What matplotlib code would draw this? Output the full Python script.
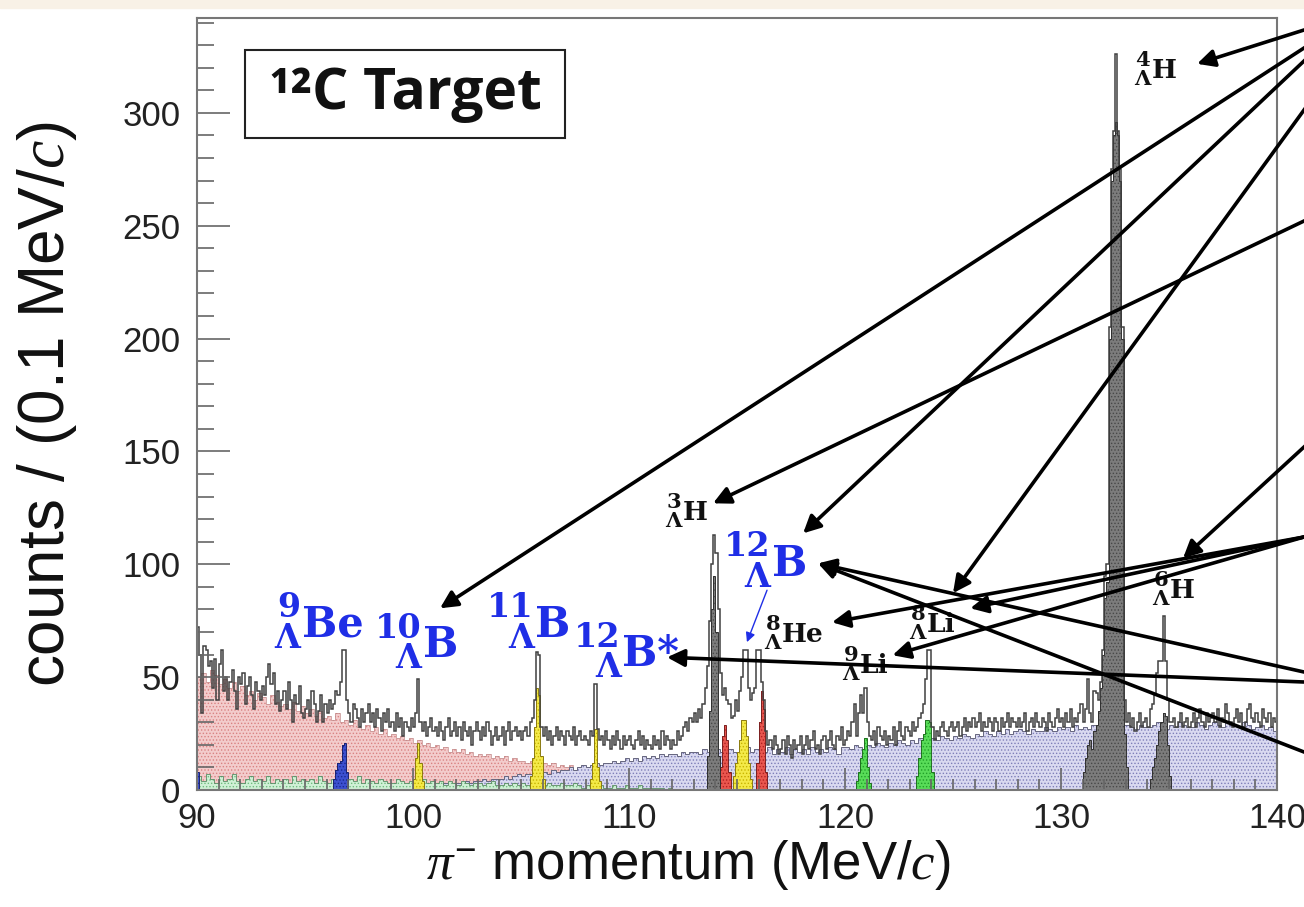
import numpy as np
import matplotlib
matplotlib.use("Agg")
import matplotlib.pyplot as plt
from matplotlib import font_manager
from matplotlib.patches import Rectangle

# pi- momentum spectrum, 0.1 MeV/c bins from 90 to 140 (one row per MeV/c)
p_lo, p_hi, bin_w = 90.0, 140.0, 0.1
total = [
    72, 60, 34, 64, 62, 55, 57, 45, 58, 40,
    56, 62, 44, 50, 40, 48, 53, 44, 36, 50,
    47, 52, 38, 46, 50, 42, 36, 48, 44, 40,
    46, 42, 50, 56, 47, 52, 38, 44, 35, 40,
    44, 36, 48, 40, 30, 42, 38, 46, 34, 32,
    36, 40, 33, 44, 38, 30, 35, 42, 30, 38,
    34, 40, 36, 38, 44, 42, 48, 62, 62, 40,
    34, 30, 38, 36, 32, 28, 36, 30, 34, 38,
    30, 34, 28, 36, 32, 26, 34, 30, 36, 28,
    30, 26, 34, 28, 32, 24, 30, 28, 26, 32,
    28, 34, 49, 30, 26, 30, 24, 28, 32, 26,
    28, 24, 30, 26, 22, 28, 32, 24, 26, 30,
    24, 28, 22, 30, 26, 24, 28, 20, 26, 30,
    26, 22, 28, 24, 30, 26, 20, 24, 28, 22,
    24, 28, 20, 26, 30, 22, 26, 28, 24, 26,
    22, 26, 28, 24, 30, 32, 40, 61, 60, 28,
    24, 28, 22, 26, 20, 24, 28, 22, 26, 24,
    20, 26, 24, 22, 28, 20, 24, 26, 22, 24,
    22, 20, 26, 24, 47, 27, 22, 24, 20, 26,
    22, 18, 24, 20, 26, 22, 18, 24, 20, 22,
    24, 20, 18, 22, 26, 20, 24, 18, 22, 20,
    18, 24, 20, 22, 18, 26, 20, 24, 22, 18,
    22, 20, 26, 22, 24, 28, 30, 26, 32, 30,
    34, 30, 36, 32, 38, 45, 55, 75, 100, 113,
    105, 80, 52, 42, 45, 40, 38, 32, 33, 40,
    35, 44, 50, 62, 62, 45, 40, 43, 45, 62,
    62, 48, 40, 26, 20, 22, 18, 24, 20, 16,
    18, 22, 16, 24, 20, 14, 22, 18, 20, 24,
    16, 20, 24, 18, 22, 26, 18, 20, 16, 22,
    24, 18, 22, 26, 20, 18, 24, 22, 28, 20,
    22, 26, 24, 30, 38, 24, 34, 42, 34, 45,
    30, 24, 22, 26, 20, 28, 24, 22, 26, 20,
    24, 22, 28, 20, 26, 30, 24, 22, 28, 26,
    24, 30, 26, 28, 32, 34, 38, 49, 62, 62,
    28, 22, 26, 24, 28, 30, 26, 24, 28, 30,
    26, 28, 30, 24, 28, 32, 26, 30, 28, 32,
    28, 30, 34, 26, 30, 28, 32, 30, 26, 32,
    30, 26, 32, 28, 30, 34, 28, 32, 30, 28,
    32, 28, 30, 34, 26, 30, 32, 28, 34, 30,
    28, 32, 30, 26, 34, 30, 28, 32, 36, 30,
    32, 28, 34, 30, 36, 28, 32, 30, 34, 38,
    30, 36, 49, 34, 30, 44, 43, 40, 48, 62,
    95, 100, 205, 275, 292, 326, 292, 275, 205, 40,
    30, 34, 28, 32, 26, 30, 34, 28, 30, 32,
    28, 36, 38, 42, 52, 57, 57, 77, 57, 40,
    30, 30, 32, 28, 30, 34, 28, 30, 32, 28,
    30, 34, 28, 32, 36, 30, 28, 34, 30, 32,
    34, 30, 36, 28, 32, 30, 38, 34, 30, 28,
    32, 36, 30, 34, 28, 30, 36, 38, 32, 30,
    34, 30, 28, 36, 32, 30, 34, 28, 32, 30,
]

# broad simulated backgrounds, 0.2 MeV/c bins (five per MeV/c)
bg_w = 0.2
pink_start = 90.0
pink = [
    50, 52, 48, 53, 51, 47, 49, 45, 48, 44, 46, 42, 44, 40, 43,
    41, 38, 42, 39, 37, 38, 36, 39, 35, 37, 34, 36, 33, 35, 32,
    33, 31, 34, 30, 31, 29, 31, 28, 27, 29, 26, 28, 25, 27, 24,
    25, 23, 24, 22, 23, 21, 22, 20, 21, 19, 20, 18, 19, 17, 18,
    17, 18, 16, 17, 15, 16, 15, 16, 14, 15, 14, 15, 13, 14, 13,
    13, 12, 13, 12, 11, 12, 11, 12, 10, 11, 10, 11, 9, 10, 10,
    9, 10, 8, 9, 8, 8, 9, 7, 8, 8, 7, 8, 7, 6, 7,
    6, 7, 6, 5, 6, 5, 6, 5, 5, 4, 4, 5, 4, 4, 3,
    3, 4, 3, 3, 2, 2, 3, 2, 2, 1,
]
lavender_start = 100.0
lavender = [
    1, 1, 2, 1, 2, 2, 2, 3, 2, 3, 3, 3, 4, 3, 4, 4, 5, 4, 5, 5,
    5, 6, 5, 6, 7, 6, 7, 7, 8, 7, 8, 7, 9, 8, 9, 9, 10, 9, 10, 11,
    10, 11, 12, 11, 12, 12, 13, 12, 13, 14, 13, 14, 13, 15, 14, 15, 14, 16, 15, 16,
    16, 15, 17, 16, 17, 17, 16, 18, 17, 16, 18, 17, 16, 18, 17, 17, 18, 19, 17, 18,
    18, 17, 19, 16, 18, 17, 19, 16, 18, 17, 18, 16, 19, 17, 18, 17, 19, 18, 16, 19,
    19, 18, 20, 19, 18, 20, 19, 21, 20, 19, 21, 20, 22, 21, 20, 22, 21, 23, 22, 21,
    23, 22, 24, 23, 22, 24, 23, 25, 24, 23, 25, 24, 26, 25, 24, 26, 25, 27, 25, 26,
    27, 26, 25, 27, 26, 26, 28, 27, 26, 28, 27, 28, 26, 29, 27, 28, 27, 29, 28, 27,
    28, 29, 27, 28, 29, 29, 28, 27, 29, 28, 28, 29, 30, 28, 27, 29, 28, 30, 29, 28,
    28, 30, 29, 27, 29, 30, 29, 28, 30, 29, 29, 28, 30, 29, 27, 28, 29, 27, 28, 26,
]
mint_start = 90.0
mint = [
    6, 4, 7, 5, 3, 6, 4, 5, 7, 4, 3, 5, 6, 4, 5, 4, 6, 3, 5, 4,
    5, 3, 6, 4, 5, 4, 5, 3, 6, 4, 3, 5, 4, 6, 3, 5, 4, 6, 3, 5,
    4, 3, 5, 4, 3, 3, 5, 4, 3, 4, 4, 3, 5, 3, 4, 3, 4, 2, 4, 3,
    2, 4, 3, 2, 3, 3, 2, 3, 4, 2, 2, 3, 2, 3, 2, 3, 2, 3, 2, 2,
    2, 3, 2, 2, 3, 2, 2, 3, 2, 1, 2, 1, 2, 2, 1, 1, 2, 1, 1, 2,
    1, 1, 2, 1, 1, 1, 1, 1, 0, 1,
]

# hypernuclear peaks, 0.1 MeV/c bins: (low edge of first bin, counts)
blue_peaks = [(90.0, [8]), (96.3, [5, 9, 12, 13, 20, 21, 8])]
yellow_peaks = [(100.0, [5, 14, 21, 12, 4]),
                (105.4, [6, 14, 28, 45, 42, 15, 5]),
                (108.2, [5, 12, 27, 10, 4]),
                (114.8, [6, 12, 17, 22, 31, 31, 24, 12, 5])]
red_peaks = [(114.2, [10, 24, 29, 22, 8]), (115.9, [12, 30, 44, 36, 8])]
green_peaks = [(120.5, [4, 8, 14, 18, 23, 10, 3]),
               (123.3, [6, 14, 22, 25, 31, 31, 30, 8])]
gray_peaks = [(113.6, [15, 35, 80, 95, 70, 15]),
              (131.0, [8, 14, 20, 22, 18, 26, 29, 35, 45, 60, 85, 92, 200,
                       270, 290, 296, 290, 270, 200, 25, 10]),
              (134.1, [5, 10, 14, 20, 26, 30, 34, 33, 20, 6])]

# labels: (momentum, counts) of the symbol's baseline-left corner
blue_labels = [("9", "Be", 94.86, 68.0), ("10", "B", 100.46, 59.0),
               ("11", "B", 105.65, 68.0), ("12", "B*", 109.68, 55.0),
               ("12", "B", 116.62, 95.0)]
black_labels = [("3", "H", 112.5, 119.5), ("4", "H", 134.2, 315.5),
                ("6", "H", 135.05, 85.0), ("8", "He", 117.08, 65.5),
                ("8", "Li", 123.8, 69.9), ("9", "Li", 120.7, 51.8)]

# arrows from outside the frame: tip (momentum, counts), tail row at right edge (px from top)
arrows = [((136.30, 321.7), 30), ((101.25, 80.5), 48), ((118.06, 113.7), 61),
          ((125.0, 87.2), 110), ((113.89, 127.0), 221), ((135.65, 102.7), 447),
          ((119.4, 74.3), 537), ((125.8, 80.5), 537), ((122.2, 59.7), 537),
          ((118.75, 100.4), 672), ((118.75, 100.4), 752), ((111.76, 58.8), 682)]


def bold_family(cands):
    for name in cands:
        for f in font_manager.fontManager.ttflist:
            w = f.weight if isinstance(f.weight, int) else 400
            if f.name == name and (w >= 600 or f.weight == "bold"):
                return name
    return "DejaVu Sans"


title_font = bold_family(["Noto Sans", "Open Sans", "Lato", "Roboto", "DejaVu Sans"])
serif = "DejaVu Serif"
plt.rcParams["font.family"] = "Liberation Sans"
plt.rcParams["mathtext.fontset"] = "custom"
plt.rcParams["mathtext.it"] = "Liberation Serif:italic"
plt.rcParams["mathtext.rm"] = "Liberation Sans"
plt.rcParams["hatch.linewidth"] = 0.6

W, H = 1304, 907
fig = plt.figure(figsize=(W / 100, H / 100), dpi=100)
fig.patches.append(Rectangle((0, 1 - 8 / H), 1, 8 / H, transform=fig.transFigure,
                             color="#f8f1e6", zorder=-1))
ax = fig.add_axes([197 / W, 117 / H, 1080 / W, 772 / H])


def component(start, counts, width, face, dots, line, lw=0.7):
    counts = np.asarray(counts, float)
    edges = np.round(start + width * np.arange(len(counts) + 1), 3)
    ax.stairs(counts, edges, fill=True, facecolor=face, edgecolor=dots,
              hatch=".....", linewidth=0)
    ax.stairs(counts, edges, color=line, linewidth=lw, baseline=0)


component(pink_start, pink, bg_w, "#f3cccc", "#d98282", "#c08888", 0.5)
component(lavender_start, lavender, bg_w, "#d9d9f0", "#7e7eb8", "#66667e", 0.7)
component(mint_start, mint, bg_w, "#d0f0d6", "#70bc80", "#5a8a64", 0.6)
for s, c in blue_peaks:
    component(s, c, bin_w, "#3c50d0", "#1a2890", "#1a2270")
for s, c in yellow_peaks:
    component(s, c, bin_w, "#f4ea48", "#c8b400", "#8a7a10")
for s, c in red_peaks:
    component(s, c, bin_w, "#e8564e", "#b02020", "#7a2020")
for s, c in green_peaks:
    component(s, c, bin_w, "#58dc58", "#20a028", "#207020")
for s, c in gray_peaks:
    component(s, c, bin_w, "#7c7c7c", "#484848", "#303030")

edges = np.round(p_lo + bin_w * np.arange(len(total) + 1), 3)
ax.stairs(total, edges, color="#404040", linewidth=1.1, baseline=0)

ax.set_xlim(p_lo, p_hi)
ax.set_ylim(0, 342)
ax.set_xticks(np.arange(90, 141, 10))
ax.set_xticks(np.arange(90, 141, 1), minor=True)
ax.set_yticks(np.arange(0, 301, 50))
ax.set_yticks(np.arange(0, 341, 10), minor=True)
ax.tick_params(which="both", direction="in", top=False, right=False, colors="#666666",
               labelcolor="#222222", labelsize=25, width=1.2)
ax.tick_params(axis="y", which="major", length=24, pad=12)
ax.tick_params(axis="y", which="minor", length=12)
ax.tick_params(axis="x", which="major", length=16, pad=9)
ax.tick_params(axis="x", which="minor", length=8)
for sp in ax.spines.values():
    sp.set_color("#777777")
    sp.set_linewidth(1.5)

ax.text(-0.139, 0.5, "counts / (0.1 MeV/$c$)", transform=ax.transAxes, rotation=90,
        ha="center", va="center", fontsize=46, color="#111111")
ax.text(0.455, -0.097, r"$\pi^{-}$ momentum (MeV/$c$)", transform=ax.transAxes,
        ha="center", va="center", fontsize=38, color="#111111")

ax.add_patch(Rectangle((0.044, 0.845), 0.297, 0.114, transform=ax.transAxes,
                       facecolor="white", edgecolor="#222222", linewidth=1.5, zorder=5))
ax.text(0.193, 0.902, "¹²C Target", transform=ax.transAxes, ha="center", va="center",
        fontsize=41, family=title_font, weight="bold", color="#111111", zorder=6)


def nucleus(mass, sym, x, y, color, size):
    ax.text(x, y, sym, color=color, fontsize=size, family=serif, weight="bold",
            ha="left", va="baseline", zorder=7)
    ax.annotate(mass, (x, y), xytext=(-1, 0.46 * size), textcoords="offset points",
                ha="right", va="baseline", fontsize=0.8 * size, family=serif,
                weight="bold", color=color, zorder=7)
    ax.annotate("Λ", (x, y), xytext=(-1, -0.27 * size), textcoords="offset points",
                ha="right", va="baseline", fontsize=0.8 * size, family=serif,
                weight="bold", color=color, zorder=7)


for m, s, x, y in blue_labels:
    nucleus(m, s, x, y, "#1f2ee6", 30)
for m, s, x, y in black_labels:
    nucleus(m, s, x, y, "#111111", 19)

for (tx, ty), row in arrows:
    tip = ax.transData.transform((tx, ty))
    edge = np.array([W, H - row], float)
    tail = edge + 0.04 * (edge - tip)
    ax.annotate("", xy=(tx, ty), xycoords="data", xytext=tuple(tail),
                textcoords="figure pixels", annotation_clip=False,
                arrowprops=dict(arrowstyle="-|>", color="black", lw=2.6,
                                mutation_scale=26, shrinkA=0, shrinkB=0), zorder=8)

ax.annotate("", xy=(115.46, 65.5), xytext=(116.39, 88.5),
            arrowprops=dict(arrowstyle="-|>", color="#1f2ee6", lw=1.0,
                            mutation_scale=14, shrinkA=0, shrinkB=0), zorder=8)

fig.savefig("out.png", dpi=100)
